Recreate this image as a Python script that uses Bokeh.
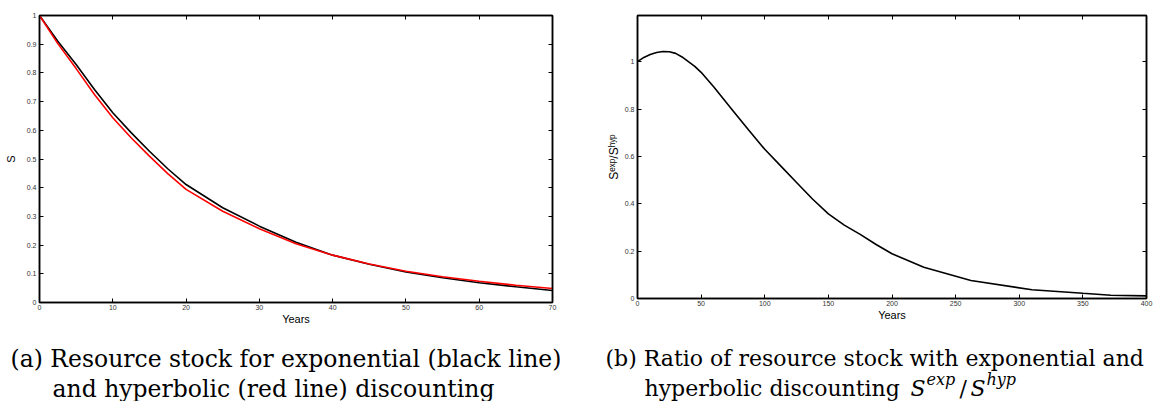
from bokeh.plotting import figure
from bokeh.layouts import row, column
from bokeh.models import LinearAxis, FixedTicker, Range1d
from bokeh.core.properties import value
from bokeh.embed import file_html
from bokeh.resources import INLINE

# ---- data (a) ----
years_a = [0, 2.5, 5, 7.5, 10, 12.5, 15, 17.5, 20, 25, 30, 35, 40, 45, 50, 55, 60, 65, 70]
s_exp = [1.0, 0.91, 0.829, 0.742, 0.661, 0.592, 0.527, 0.466, 0.411, 0.330, 0.266, 0.210, 0.165, 0.133, 0.106, 0.086, 0.069, 0.055, 0.042]
s_hyp = [1.0, 0.902, 0.815, 0.725, 0.644, 0.574, 0.510, 0.449, 0.394, 0.318, 0.257, 0.205, 0.165, 0.134, 0.109, 0.090, 0.074, 0.060, 0.049]
xticks_a = [0, 10, 20, 30, 40, 50, 60, 70]
yticks_a = [0, 0.1, 0.2, 0.3, 0.4, 0.5, 0.6, 0.7, 0.8, 0.9, 1.0]

# ---- data (b) ----
years_b = [0, 5, 10, 15, 20, 25, 30, 35, 40, 45, 50, 60, 75, 87.5, 100, 112.5, 125, 137.5, 150, 162.5, 175, 187.5, 200, 225, 262, 310, 350, 372, 400]
ratio = [1.0, 1.018, 1.03, 1.039, 1.043, 1.042, 1.035, 1.02, 1.0, 0.98, 0.955, 0.893, 0.793, 0.71, 0.63, 0.56, 0.49, 0.42, 0.357, 0.31, 0.271, 0.228, 0.189, 0.132, 0.076, 0.037, 0.022, 0.014, 0.011]
xticks_b = [0, 50, 100, 150, 200, 250, 300, 350, 400]
yticks_b = [0, 0.2, 0.4, 0.6, 0.8, 1.0]

caption_a = ["(a) Resource stock for exponential (black line)", "and hyperbolic (red line) discounting"]
caption_b = ["(b) Ratio of resource stock with exponential and", "hyperbolic discounting"]
ylabel_b = "S\u1d49\u02e3\u1d56/S\u02b0\u02b8\u1d56"
math_b = [("S", "main"), ("exp", "sup"), ("/", "up"), ("S", "main"), ("hyp", "sup")]

TICK_FONT = "Liberation Sans"
CAP_FONT = "DejaVu Serif"
TOP_H = 330     # height of the plot row
CAP_H = 71      # height of the caption strip


def base_fig(fw, fh, left, right, top, xr, yr, xt, yt):
    bottom = TOP_H - top - fh
    p = figure(frame_width=fw, frame_height=fh, x_range=Range1d(*xr), y_range=Range1d(*yr),
               output_backend="svg", toolbar_location=None,
               min_border_left=left, min_border_right=right, min_border_top=top, min_border_bottom=bottom,
               background_fill_color="white", border_fill_color="white")
    p.grid.visible = False
    p.outline_line_color = "black"
    p.outline_line_width = 1.5
    for ax in (p.xaxis[0], p.yaxis[0]):
        ax.major_tick_in = 4
        ax.major_tick_out = 0
        ax.minor_tick_line_color = None
        ax.axis_line_color = "black"
        ax.axis_line_width = 1.5
        ax.major_tick_line_color = "black"
        ax.major_label_text_font = TICK_FONT
        ax.major_label_text_font_size = "7px"
        ax.major_label_text_color = "#333333"
        ax.major_label_standoff = 3
        ax.axis_label_text_font = TICK_FONT
        ax.axis_label_text_font_size = "11px"
        ax.axis_label_text_font_style = "normal"
        ax.axis_label_text_color = "black"
    p.xaxis[0].ticker = FixedTicker(ticks=xt)
    p.yaxis[0].ticker = FixedTicker(ticks=yt)
    p.xaxis[0].axis_label = "Years"
    p.xaxis[0].axis_label_standoff = 0
    p.xaxis[0].major_label_standoff = 2
    p.yaxis[0].major_label_overrides = {0: "0", 1: "1"}
    for loc, t in (("right", yt), ("above", xt)):
        ax = LinearAxis(ticker=FixedTicker(ticks=t), major_tick_in=4, major_tick_out=0,
                        minor_tick_line_color=None, major_label_text_font_size="1px",
                        major_label_text_color=None, major_label_standoff=0,
                        axis_line_color="black", axis_line_width=1.5)
        p.add_layout(ax, loc)
    return p


# ---- figure (a) ----
pa = base_fig(513, 287, 39, 26, 11, (0, 70), (0, 1), xticks_a, yticks_a)
pa.yaxis[0].axis_label = "S"
pa.yaxis[0].axis_label_standoff = 7
pa.line(years_a, s_exp, line_color="black", line_width=1.6)
pa.line(years_a, s_hyp, line_color="red", line_width=1.6)

# ---- figure (b) ----
pb = base_fig(509, 283, 59, 10, 15, (0, 400), (0, 1.195), xticks_b, yticks_b)
pb.yaxis[0].axis_label = ylabel_b
pb.yaxis[0].axis_label_standoff = 1
pb.yaxis[0].axis_label_text_font_size = "12px"
pb.line(years_b, ratio, line_color="black", line_width=1.6)

# ---- caption strip: a figure whose data units are page pixels ----
pc = figure(width=1156, height=CAP_H, x_range=Range1d(0, 1156), y_range=Range1d(0, CAP_H),
            output_backend="svg", toolbar_location=None, x_axis_type=None, y_axis_type=None,
            min_border=0, background_fill_color="white", border_fill_color="white")
pc.grid.visible = False
pc.outline_line_color = None


def cap(txt, x, base_py, size, style="normal"):
    pc.text(x=[x], y=[CAP_H - (base_py - (401 - CAP_H))], text=[txt], text_font=value(CAP_FONT),
            text_font_size=f"{size}px", text_font_style=style, text_color="black",
            text_baseline="alphabetic", text_align="left")


L1, L2 = 358, 388
cap(caption_a[0], 10, L1, 23.5)
cap(caption_a[1], 52, L2, 23.5)
cap(caption_b[0], 605, L1, 22)
cap(caption_b[1], 644, L2, 22)
mx = 910
for txt, kind in math_b:
    if kind == "main":
        cap(txt, mx, L2, 22, style="italic"); mx += 16
    elif kind == "sup":
        cap(txt, mx, L2 - 9, 16, style="italic"); mx += 33
    else:
        cap(txt, mx, L2, 22); mx += 11

layout = column(row(pa, pb, spacing=0), pc, spacing=0)
open("out.html", "w").write(file_html(layout, INLINE))
